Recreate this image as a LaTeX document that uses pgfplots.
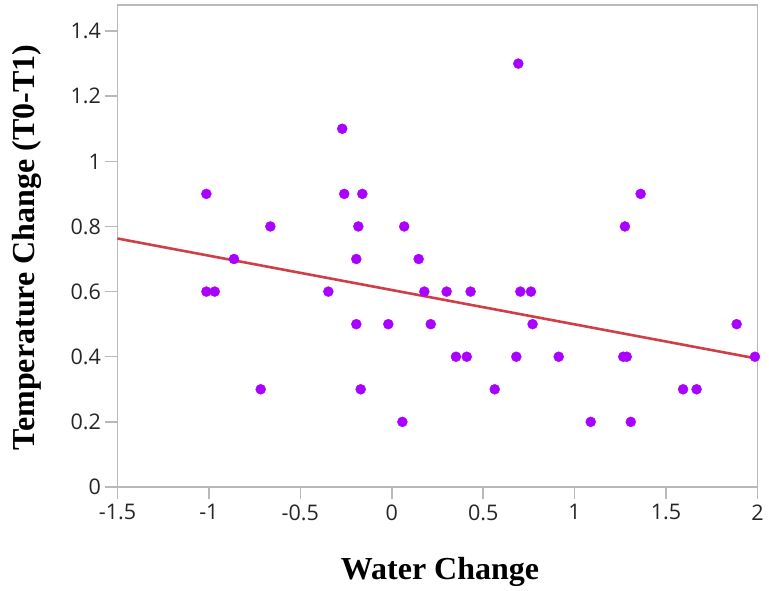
\documentclass[border=0pt]{standalone}
\usepackage{fontspec}
\setmainfont{Liberation Serif}
\newfontfamily\tickfont{Open Sans}
\usepackage{pgfplots}
\pgfplotsset{compat=1.18}
\definecolor{ptcol}{RGB}{170,0,255}
\definecolor{fitcol}{RGB}{208,62,72}
\definecolor{axcol}{RGB}{185,185,185}
\begin{document}
\begin{tikzpicture}
\path[use as bounding box] (-117.5pt,-103pt) rectangle (651.5pt,487pt);
\begin{axis}[
  at={(0,0)}, anchor=south west,
  scale only axis, width=640pt, height=482pt,
  xmin=-1.5, xmax=2, ymin=0, ymax=1.48,
  xtick={-1.5,-1,-0.5,0,0.5,1,1.5,2},
  ytick={0,0.2,0.4,0.6,0.8,1,1.2,1.4},
  tick pos=left, tick align=outside,
  major tick length=12pt,
  axis line style={draw=axcol, line width=1.5pt},
  every tick/.style={draw=axcol, line width=1.5pt},
  /pgf/number format/assume math mode=true,
  tick label style={font=\tickfont\fontsize{21.5}{21.5}\selectfont, text=black!85},
  yticklabel style={xshift=-1pt},
  xticklabel style={yshift=-2pt},
  xlabel={Water Change},
  ylabel={Temperature Change (T0-T1)},
  label style={font=\bfseries\fontsize{32}{32}\selectfont},
  xlabel style={at={(axis description cs:0.504,-0.176)}, anchor=center},
  ylabel style={at={(axis description cs:-0.1414,0.497)}, anchor=center},
]
\addplot[color=fitcol, line width=2.6pt] coordinates {(-1.5,0.763) (2,0.394)};
\addplot[only marks, mark=*, mark size=5pt, color=ptcol, mark options={draw=ptcol, fill=ptcol}] coordinates {
(-1.014,0.9) (-1.014,0.6) (-0.968,0.6) (-0.863,0.7) (-0.717,0.3)
(-0.664,0.8) (-0.347,0.6) (-0.271,1.1) (-0.260,0.9) (-0.194,0.7)
(-0.194,0.5) (-0.183,0.8) (-0.170,0.3) (-0.161,0.9) (-0.019,0.5)
(0.058,0.2) (0.068,0.8) (0.147,0.7) (0.178,0.6) (0.213,0.5)
(0.300,0.6) (0.351,0.4) (0.410,0.4) (0.431,0.6) (0.563,0.3)
(0.681,0.4) (0.692,1.3) (0.703,0.6) (0.761,0.6) (0.770,0.5)
(0.913,0.4) (1.088,0.2) (1.266,0.4) (1.275,0.8) (1.285,0.4)
(1.307,0.2) (1.361,0.9) (1.593,0.3) (1.667,0.3) (1.886,0.5)
(1.986,0.4)
};
\end{axis}
\end{tikzpicture}
\end{document}
